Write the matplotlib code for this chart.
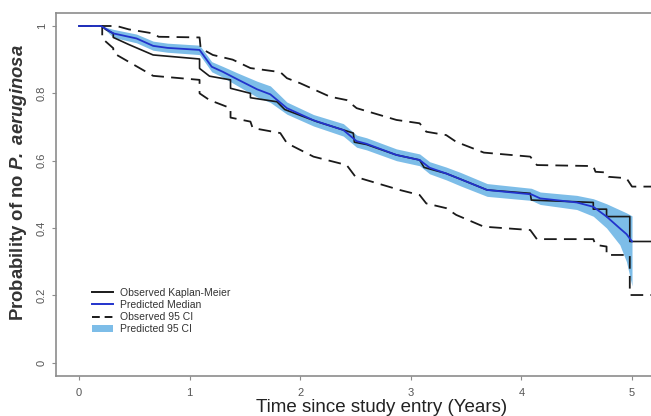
import matplotlib
matplotlib.use("Agg")
import matplotlib.pyplot as plt
from matplotlib.patches import Patch
from matplotlib.lines import Line2D

plt.rcParams['font.family'] = ['Liberation Sans', 'DejaVu Sans']
plt.rcParams['mathtext.fontset'] = 'custom'
plt.rcParams['mathtext.bfit'] = 'Liberation Sans:italic:bold'
plt.rcParams['mathtext.it'] = 'Liberation Sans:italic'
plt.rcParams['mathtext.rm'] = 'Liberation Sans'

# observed Kaplan-Meier (repeated times = vertical drops)
km_time = [0.00, 0.21, 0.24, 0.31, 0.31, 0.45, 0.67, 1.09, 1.09, 1.18, 1.37, 1.37,
           1.55, 1.55, 1.79, 1.86, 2.15, 2.48, 2.49, 2.60, 2.87, 3.08, 3.12, 3.32,
           3.45, 3.69, 4.08, 4.09, 4.65, 4.65, 4.77, 4.77, 4.98, 4.98, 5.20]
km_surv = [1.000, 1.000, 0.990, 0.978, 0.966, 0.945, 0.914, 0.902, 0.874, 0.851, 0.840, 0.815,
           0.800, 0.787, 0.775, 0.752, 0.716, 0.682, 0.655, 0.648, 0.617, 0.602, 0.580, 0.562,
           0.545, 0.513, 0.503, 0.483, 0.476, 0.456, 0.456, 0.434, 0.434, 0.360, 0.360]

# observed 95% CI, lower and upper
lo_time = [0.00, 0.21, 0.21, 0.31, 0.31, 0.67, 1.09, 1.09, 1.18, 1.37, 1.37, 1.55,
           1.57, 1.82, 1.88, 2.12, 2.42, 2.50, 2.90, 3.08, 3.14, 3.32, 3.41, 3.66,
           4.08, 4.14, 4.65, 4.67, 4.77, 4.77, 4.98, 4.98, 5.20]
lo_surv = [1.000, 1.000, 0.963, 0.934, 0.920, 0.852, 0.840, 0.800, 0.780, 0.756, 0.728, 0.716,
           0.697, 0.682, 0.652, 0.612, 0.587, 0.552, 0.513, 0.498, 0.473, 0.459, 0.439, 0.404,
           0.394, 0.367, 0.367, 0.350, 0.345, 0.320, 0.320, 0.201, 0.201]
hi_time = [0.00, 0.34, 0.45, 0.67, 0.72, 1.09, 1.10, 1.21, 1.39, 1.55, 1.82, 1.88,
           2.00, 2.27, 2.42, 2.51, 2.87, 3.08, 3.14, 3.32, 3.41, 3.66, 4.08, 4.14,
           4.65, 4.67, 4.77, 4.79, 4.95, 5.00, 5.20]
hi_surv = [1.000, 1.000, 0.990, 0.978, 0.968, 0.966, 0.934, 0.914, 0.900, 0.875, 0.863, 0.845,
           0.830, 0.790, 0.780, 0.756, 0.721, 0.711, 0.686, 0.676, 0.656, 0.624, 0.612, 0.587,
           0.584, 0.567, 0.565, 0.552, 0.548, 0.523, 0.523]

# predicted median with 95% band
pred_time = [0.00, 0.20, 0.31, 0.52, 0.67, 0.80, 1.09, 1.20, 1.30, 1.43, 1.61, 1.73,
             1.88, 2.12, 2.39, 2.51, 2.60, 2.87, 3.08, 3.17, 3.32, 3.45, 3.69, 4.09,
             4.17, 4.50, 4.65, 4.77, 4.89, 4.95, 5.00]
pred_med = [1.000, 1.000, 0.978, 0.963, 0.941, 0.935, 0.929, 0.879, 0.864, 0.842, 0.812, 0.797,
            0.756, 0.720, 0.691, 0.658, 0.650, 0.617, 0.602, 0.579, 0.562, 0.545, 0.513, 0.500,
            0.488, 0.476, 0.463, 0.434, 0.399, 0.382, 0.360]
pred_lo = [1.000, 1.000, 0.966, 0.950, 0.928, 0.922, 0.915, 0.864, 0.848, 0.823, 0.789, 0.773,
           0.738, 0.703, 0.673, 0.640, 0.632, 0.600, 0.585, 0.561, 0.543, 0.525, 0.494, 0.482,
           0.470, 0.455, 0.435, 0.400, 0.350, 0.300, 0.228]
pred_hi = [1.000, 1.000, 0.990, 0.976, 0.955, 0.949, 0.943, 0.894, 0.880, 0.861, 0.836, 0.822,
           0.774, 0.737, 0.710, 0.676, 0.668, 0.635, 0.620, 0.597, 0.581, 0.565, 0.532, 0.518,
           0.507, 0.497, 0.487, 0.472, 0.454, 0.445, 0.436]

band_col = '#7dbde8'
med_col = '#2233cc'
km_col = '#1a1a1a'
spine_col = '#8c8c8c'
dash = (0, (7, 4))

fig = plt.figure(figsize=(6.51, 4.16), dpi=100)
ax = fig.add_axes([56 / 651, 1 - 376 / 416, 1 - 56 / 651, (376 - 13) / 416])

ax.fill_between(pred_time, pred_lo, pred_hi, color=band_col, lw=0)
ax.plot(lo_time, lo_surv, color=km_col, lw=1.3, ls=dash)
ax.plot(hi_time, hi_surv, color=km_col, lw=1.3, ls=dash)
ax.plot(km_time, km_surv, color=km_col, lw=1.2)
ax.plot(pred_time, pred_med, color=med_col, lw=1.3)

ax.set_xlim((56 - 79) / 110.6, (651 - 79) / 110.6)
ax.set_ylim(-0.0395, 1.0386)

ax.set_xticks([0, 1, 2, 3, 4, 5])
ax.set_yticks([0, 0.2, 0.4, 0.6, 0.8, 1.0])
ax.set_yticklabels(['0', '0.2', '0.4', '0.6', '0.8', '1'], rotation=90, va='center')
ax.tick_params(axis='both', colors=spine_col, labelcolor='#555555', labelsize=8,
               length=3, width=0.8)
ax.tick_params(axis='x', pad=6)
ax.tick_params(axis='y', pad=3.5)

for side in ['left', 'bottom', 'top']:
    ax.spines[side].set_color(spine_col)
    ax.spines[side].set_linewidth(1.2)
ax.spines['right'].set_visible(False)

fig.text(382 / 651, 1 - 407 / 416, 'Time since study entry (Years)', fontsize=13.5,
         color='#222222', ha='center', va='center')
fig.text(19 / 651, 1 - 183 / 416, r'Probability of no $\mathbfit{P.\ aeruginosa}$',
         fontsize=13.3, fontweight='bold', color='#333333', rotation=90,
         ha='center', va='center')

handles = [Line2D([], [], color=km_col, lw=1.4),
           Line2D([], [], color=med_col, lw=1.4),
           Line2D([], [], color=km_col, lw=1.4, ls=(0, (4, 2.5))),
           Patch(facecolor=band_col, edgecolor='none')]
labels = ['Observed Kaplan-Meier', 'Predicted Median', 'Observed 95 CI', 'Predicted 95 CI']
leg = ax.legend(handles, labels, loc='upper left', bbox_to_anchor=(0.052, 0.258),
                frameon=False, fontsize=7.5, labelspacing=0.22, handlelength=2.0,
                handletextpad=0.65, borderpad=0, handleheight=0.6)
for t in leg.get_texts():
    t.set_color('#333333')

fig.savefig('out.png', dpi=100)
